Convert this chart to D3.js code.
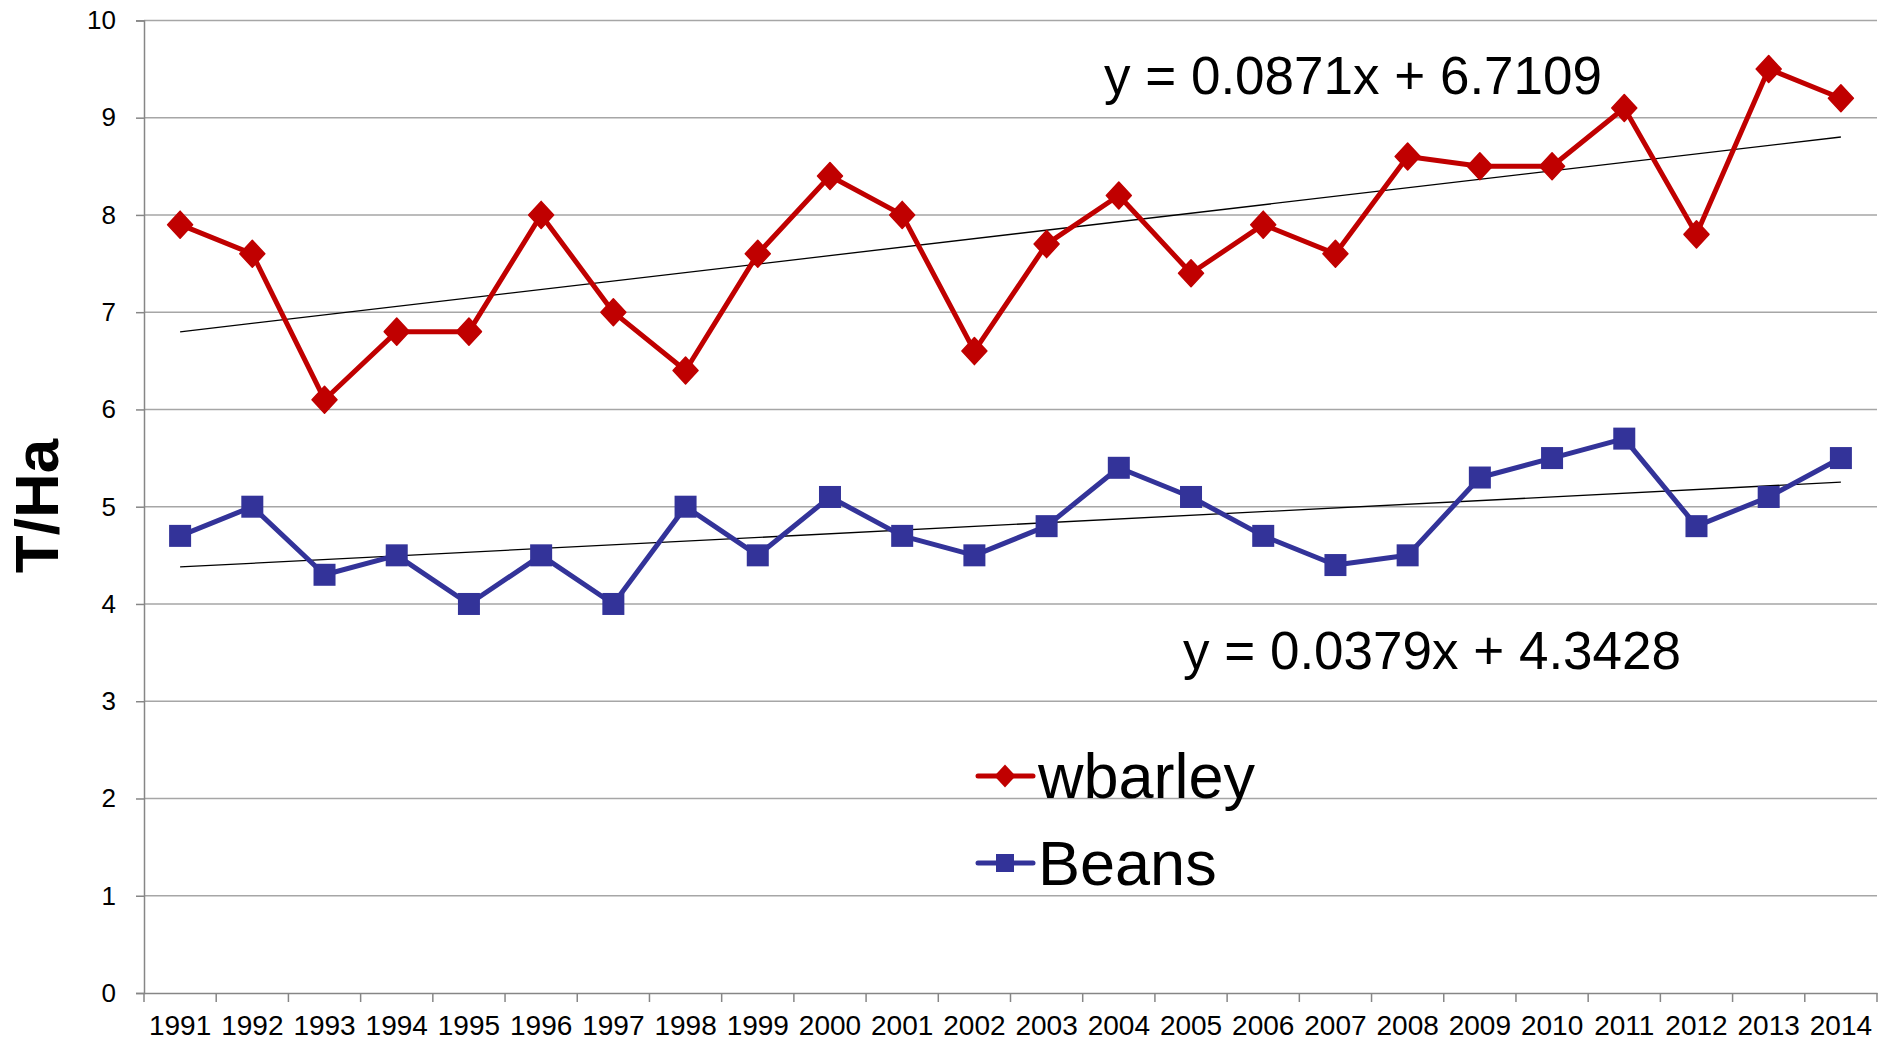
<!DOCTYPE html>
<html>
<head>
<meta charset="utf-8">
<script src="https://cdn.jsdelivr.net/npm/d3@7"></script>
<style>
  body { margin: 0; background: #fff; }
  text { font-family: "Liberation Sans", Arial, sans-serif; fill: #000; }
</style>
</head>
<body>
<div id="vis"></div>
<script>
// data
var years = ["1991","1992","1993","1994","1995","1996","1997","1998","1999","2000","2001","2002",
             "2003","2004","2005","2006","2007","2008","2009","2010","2011","2012","2013","2014"];
var wbarley = [7.9, 7.6, 6.1, 6.8, 6.8, 8.0, 7.0, 6.4, 7.6, 8.4, 8.0, 6.6,
               7.7, 8.2, 7.4, 7.9, 7.6, 8.6, 8.5, 8.5, 9.1, 7.8, 9.5, 9.2];
var beans = [4.7, 5.0, 4.3, 4.5, 4.0, 4.5, 4.0, 5.0, 4.5, 5.1, 4.7, 4.5,
             4.8, 5.4, 5.1, 4.7, 4.4, 4.5, 5.3, 5.5, 5.7, 4.8, 5.1, 5.5];
var yTicks = [0, 1, 2, 3, 4, 5, 6, 7, 8, 9, 10];
var seriesNames = ["wbarley", "Beans"];
// linear trendlines as printed on the chart (x = 1 for first year)
var trendSlopes = [0.0871, 0.0379];
var trendIntercepts = [6.7109, 4.3428];
var trendLabels = ["y = 0.0871x + 6.7109", "y = 0.0379x + 4.3428"];

var width = 1880, height = 1044;
var margin = {top: 20.4, right: 3, bottom: 51, left: 144};

var red = "#c00000", blue = "#333399";

var svg = d3.select("#vis").append("svg")
    .attr("width", width)
    .attr("height", height);

var x = d3.scaleBand().domain(years).range([margin.left, width - margin.right]);
var y = d3.scaleLinear().domain([0, 10]).range([height - margin.bottom, margin.top]);

//gridlines
svg.append("g").selectAll("line")
    .data(yTicks.filter(function(d){ return d > 0; }))
    .enter().append("line")
    .attr("x1", margin.left).attr("x2", width - margin.right)
    .attr("y1", function(d){ return y(d); }).attr("y2", function(d){ return y(d); })
    .attr("stroke", "#a6a6a6").attr("stroke-width", 1.5);

//y axis
var yAxis = svg.append("g")
    .attr("transform", "translate(" + margin.left + ",0)")
    .call(d3.axisLeft(y).tickValues(yTicks).tickSize(8).tickPadding(20).tickFormat(d3.format("d")));
yAxis.selectAll("line, path").attr("stroke", "#868686").attr("stroke-width", 1.5);
yAxis.selectAll("text").attr("font-size", 26).attr("font-family", "Liberation Sans, Arial, sans-serif");

//x axis: line, tick marks at band edges, labels centred in bands
var xAxis = svg.append("g")
    .attr("transform", "translate(0," + y(0) + ")")
    .call(d3.axisBottom(x).tickSize(0).tickPadding(22));
xAxis.select(".domain").attr("stroke", "#868686").attr("stroke-width", 1.5);
xAxis.selectAll("text").attr("font-size", 28).attr("font-family", "Liberation Sans, Arial, sans-serif");
xAxis.selectAll(".edge")
    .data(years.concat(["end"]))
    .enter().append("line")
    .attr("class", "edge")
    .attr("x1", function(d, i){ return margin.left + i * x.step(); })
    .attr("x2", function(d, i){ return margin.left + i * x.step(); })
    .attr("y1", 0).attr("y2", 9)
    .attr("stroke", "#868686").attr("stroke-width", 1.5);

function cx(d, i){ return x(years[i]) + x.bandwidth() / 2; }

var diamond = "M0,-13.5L12.5,0L0,13.5L-12.5,0Z";

function drawSeries(values, color, shape){
  svg.append("path")
     .datum(values)
     .attr("fill", "none")
     .attr("stroke", color)
     .attr("stroke-width", 5)
     .attr("stroke-linejoin", "round")
     .attr("d", d3.line().x(cx).y(function(d){ return y(d); }));
  var m = svg.append("g").selectAll("path").data(values).enter();
  if (shape === "diamond") {
    m.append("path")
     .attr("d", diamond)
     .attr("transform", function(d, i){ return "translate(" + cx(d, i) + "," + y(d) + ")"; })
     .attr("fill", color).attr("stroke", color).attr("stroke-width", 1.5).attr("stroke-linejoin", "round");
  } else {
    m.append("rect")
     .attr("x", function(d, i){ return cx(d, i) - 11; })
     .attr("y", function(d){ return y(d) - 11; })
     .attr("width", 22).attr("height", 22)
     .attr("fill", color);
  }
}

//trendlines
[0, 1].forEach(function(k){
  svg.append("line")
    .attr("x1", cx(null, 0)).attr("x2", cx(null, years.length - 1))
    .attr("y1", y(trendSlopes[k] * 1 + trendIntercepts[k]))
    .attr("y2", y(trendSlopes[k] * years.length + trendIntercepts[k]))
    .attr("stroke", "#000").attr("stroke-width", 1.3);
});

drawSeries(wbarley, red, "diamond");
drawSeries(beans, blue, "square");

//trend equations
svg.append("text").attr("x", 1104).attr("y", 94).attr("font-size", 53).text(trendLabels[0]);
svg.append("text").attr("x", 1183).attr("y", 669).attr("font-size", 53).text(trendLabels[1]);

//y axis title
svg.append("text")
   .attr("transform", "translate(58,506) rotate(-90)")
   .attr("text-anchor", "middle")
   .attr("font-size", 62)
   .attr("font-weight", "bold")
   .text("T/Ha");

//legend
var legend = svg.append("g");
[{name: seriesNames[0], color: red, shape: "diamond", yy: 776},
 {name: seriesNames[1], color: blue, shape: "square", yy: 863}].forEach(function(l){
  legend.append("line")
    .attr("x1", 978).attr("x2", 1033).attr("y1", l.yy).attr("y2", l.yy)
    .attr("stroke", l.color).attr("stroke-width", 5).attr("stroke-linecap", "round");
  if (l.shape === "diamond") {
    legend.append("path").attr("d", diamond)
      .attr("transform", "translate(1005," + l.yy + ") scale(0.85)")
      .attr("fill", l.color);
  } else {
    legend.append("rect").attr("x", 996).attr("y", l.yy - 9).attr("width", 18).attr("height", 18)
      .attr("fill", l.color);
  }
  legend.append("text").attr("x", 1038).attr("y", l.yy + 22).attr("font-size", 63).text(l.name);
});
</script>
</body>
</html>
